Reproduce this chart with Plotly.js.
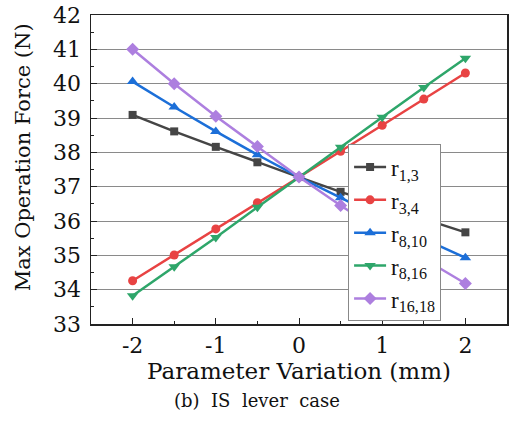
<!DOCTYPE html>
<html><head><meta charset="utf-8">
<script src="https://cdn.plot.ly/plotly-3.0.1.min.js"></script>
<style>html,body{margin:0;padding:0;background:#fff;}#chart{width:515px;height:429px;}</style>
</head><body><div id="chart"></div>
<script>
const xVals = [-2, -1.5, -1, -0.5, 0, 0.5, 1, 1.5, 2];
const r13 = [39.09, 38.61, 38.16, 37.71, 37.28, 36.85, 36.45, 36.05, 35.67];
const r34 = [34.26, 35.01, 35.77, 36.53, 37.28, 38.03, 38.79, 39.55, 40.31];
const r810 = [40.06, 39.32, 38.61, 37.93, 37.28, 36.68, 36.06, 35.48, 34.93];
const r816 = [33.82, 34.67, 35.52, 36.40, 37.28, 38.15, 39.02, 39.89, 40.74];
const r1618 = [41.00, 40.00, 39.05, 38.17, 37.28, 36.45, 35.66, 34.90, 34.18];
const names = ['r<sub>1,3</sub>', 'r<sub>3,4</sub>', 'r<sub>8,10</sub>', 'r<sub>8,16</sub>', 'r<sub>16,18</sub>'];
const series = [r13, r34, r810, r816, r1618];
const colors = ['#454545', '#e84343', '#1c6fd8', '#2ea66a', '#ad7fdf'];
const symbols = ['square', 'circle', 'triangle-up', 'triangle-down', 'diamond'];
const sizes = [8, 9, 10, 10, 10];
const traces = series.map((s, i) => ({
  x: xVals, y: s, name: names[i], type: 'scatter', mode: 'lines+markers',
  line: {color: colors[i], width: 2.5},
  marker: {symbol: symbols[i], size: sizes[i], color: colors[i]}
}));
const font = 'DejaVu Serif';
const lfont = 'Liberation Serif';
const layout = {
  width: 515, height: 429,
  margin: {l: 91, r: 8, t: 15, b: 105},
  paper_bgcolor: '#fff', plot_bgcolor: '#fff',
  font: {family: font, color: '#111', size: 22},
  showlegend: true,
  legend: {x: 0.618, y: 0.581, xanchor: 'left', yanchor: 'top', bgcolor: '#fff',
    bordercolor: '#888', borderwidth: 1, font: {family: lfont, size: 23, color: '#111'},
    itemwidth: 32, tracegroupgap: 0},
  xaxis: {range: [-2.5, 2.5], tickvals: [-2, -1, 0, 1, 2], ticktext: ['-2', '-1', '0', '1', '2'],
    ticks: 'inside', ticklen: 6, tickwidth: 1, tickcolor: '#222',
    minor: {tickvals: [-1.5, -0.5, 0.5, 1.5], ticks: 'inside', ticklen: 3, tickcolor: '#222'},
    showgrid: false, zeroline: false, showline: true, linecolor: '#222', linewidth: 1.5, mirror: true,
    ticklabelstandoff: 1,
    tickfont: {family: font, size: 22, color: '#111'},
    title: {text: 'Parameter Variation (mm)', font: {family: font, size: 23, color: '#111'}, standoff: 2}},
  yaxis: {range: [33, 42], tickvals: [33, 34, 35, 36, 37, 38, 39, 40, 41, 42],
    ticks: 'inside', ticklen: 6, tickwidth: 1, tickcolor: '#222',
    minor: {tickvals: [33.5, 34.5, 35.5, 36.5, 37.5, 38.5, 39.5, 40.5, 41.5], ticks: 'inside', ticklen: 3, tickcolor: '#222', showgrid: false},
    showgrid: true, gridcolor: '#8a8a8a', gridwidth: 1, zeroline: false,
    showline: true, linecolor: '#222', linewidth: 1.5, mirror: true,
    ticklabelstandoff: 4,
    tickfont: {family: font, size: 22, color: '#111'}},
  annotations: [
    {text: 'Max Operation Force (N)', xref: 'paper', yref: 'paper', x: -0.163, y: 0.540,
      xanchor: 'center', yanchor: 'middle', textangle: -90, showarrow: false,
      font: {family: font, size: 21, color: '#111'}},
    {text: '(b)\u00a0 IS\u00a0 lever\u00a0 case', xref: 'paper', yref: 'paper', x: 0.40, y: -0.247,
    xanchor: 'center', yanchor: 'middle', showarrow: false, font: {family: font, size: 18, color: '#111'}}]
};
Plotly.newPlot('chart', traces, layout, {displayModeBar: false, staticPlot: true});
</script></body></html>
